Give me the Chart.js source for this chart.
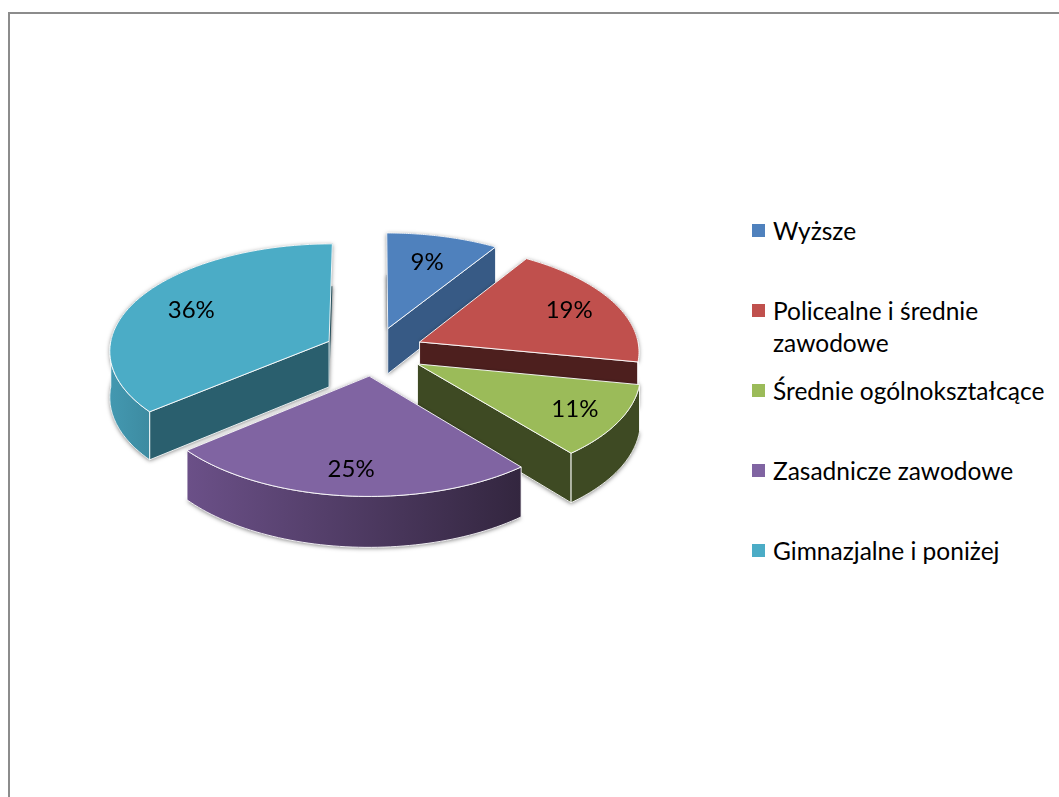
<!DOCTYPE html>
<html>
<head>
<meta charset="utf-8">
<script src="https://cdn.jsdelivr.net/npm/chart.js@4/dist/chart.umd.min.js"></script>
<style>
  html, body { margin: 0; padding: 0; background: #fff; overflow: hidden; }
  #page { position: relative; width: 1059px; height: 797px; overflow: hidden; font-family: Lato, sans-serif; }
  #frame { position: absolute; left: 8px; top: 12px; width: 1060px; height: 800px; border: 2px solid #8c8c8c; border-width: 2px 0 0 2px; }
  #wrap { position: absolute; left: 0; top: 0; width: 748px; height: 797px; }
  #legend { position: absolute; left: 752px; top: 215px; width: 295px; margin: 0; padding: 0; list-style: none; color: #000; font-size: 24.5px; line-height: 32px; }
  #legend li { position: relative; height: 80px; padding-left: 21px; white-space: normal; }
  #legend i { position: absolute; left: 0; top: 9px; width: 13px; height: 13px; }
</style>
</head>
<body>
<div id="page">
  <div id="frame"></div>
  <div id="wrap"><canvas id="myChart"></canvas></div>
  <ul id="legend"></ul>
</div>
<script>
const categories = ['Wyższe', 'Policealne i średnie zawodowe', 'Średnie ogólnokształcące', 'Zasadnicze zawodowe', 'Gimnazjalne i poniżej'];
const values = [9, 19, 11, 25, 36];

const topColors = ['#4f81bd', '#c0504d', '#9bbb59', '#8064a2', '#4bacc6'];
const cutColors = ['#375a85', '#4d1f1e', '#3e4a23', '#4a3560', '#2a5f6e'];
const rimLeft = ['#375a85', '#4d1f1e', '#3e4a23', '#6b5088', '#4398b0'];
const rimRight = ['#375a85', '#4d1f1e', '#3e4a23', '#33263f', '#3d8ba1'];
const labelDist = [0.7, 0.77, 0.79, 0.79, 0.72];

const radius = 220;
const depth = 46;
const squash = 0.485;
const persp = 0.00036;

const legendEl = document.getElementById('legend');
categories.forEach((name, i) => {
    const li = document.createElement('li');
    const box = document.createElement('i');
    box.style.background = topColors[i];
    li.appendChild(box);
    li.appendChild(document.createTextNode(name));
    legendEl.appendChild(li);
});

// flat arcs from the doughnut controller are tilted into a 3d view here
const pie3d = {
    id: 'pie3d',
    beforeDatasetsDraw(chart) {
        const ctx = chart.ctx;
        const arcs = chart.getDatasetMeta(0).data;

        const parts = arcs.map((el, i) => {
            const mid = (el.startAngle + el.endAngle) / 2;
            const off = el.options.offset / 4;
            return { el, i, ox: Math.cos(mid) * off, oy: Math.sin(mid) * off, mid };
        }).sort((a, b) => a.oy - b.oy);

        parts.forEach(p => {
            const { el, i, ox, oy } = p;
            const proj = (a, r, z) => {
                const X = ox + Math.cos(a) * r;
                const Y = oy + Math.sin(a) * r;
                const s = 1 / (1 - persp * Y);
                return [el.x + X * s, el.y + (squash * Y + z) * s];
            };
            const R = el.outerRadius;
            const steps = 60;
            const rimPts = (from, to, z) => {
                const pts = [];
                for (let k = 0; k <= steps; k++) pts.push(proj(from + (to - from) * k / steps, R, z));
                return pts;
            };
            const path = pts => {
                ctx.beginPath();
                pts.forEach((q, k) => k ? ctx.lineTo(q[0], q[1]) : ctx.moveTo(q[0], q[1]));
                ctx.closePath();
            };

            const topFace = [proj(0, 0, 0)].concat(rimPts(el.startAngle, el.endAngle, 0));
            const botFace = [proj(0, 0, depth)].concat(rimPts(el.startAngle, el.endAngle, depth));

            // soft shadow under the body
            ctx.save();
            ctx.shadowColor = 'rgba(0,0,0,0.5)';
            ctx.shadowBlur = 4;
            ctx.shadowOffsetY = 1;
            ctx.fillStyle = cutColors[i];
            path(botFace); ctx.fill();
            path(topFace); ctx.fill();
            ctx.restore();

            ctx.strokeStyle = 'rgba(255,255,255,0.9)';
            ctx.lineWidth = 1;
            ctx.lineJoin = 'round';

            // flat cut walls facing the viewer
            const cut = a => {
                const q = [proj(0, 0, 0), proj(a, R, 0), proj(a, R, depth), proj(0, 0, depth)];
                ctx.fillStyle = cutColors[i];
                path(q); ctx.fill(); ctx.stroke();
            };
            if (Math.cos(el.endAngle) > 0.001) cut(el.endAngle);
            if (Math.cos(el.startAngle) < -0.001) cut(el.startAngle);

            // outer rim, only the front half of the circle shows
            const from = Math.max(el.startAngle, 0);
            const to = Math.min(el.endAngle, Math.PI);
            if (to > from) {
                const t = rimPts(from, to, 0);
                const b = rimPts(from, to, depth).reverse();
                const g = ctx.createLinearGradient(t[t.length - 1][0], 0, t[0][0], 0);
                g.addColorStop(0, rimLeft[i]);
                g.addColorStop(1, rimRight[i]);
                ctx.fillStyle = g;
                path(t.concat(b)); ctx.fill(); ctx.stroke();
            }

            ctx.fillStyle = topColors[i];
            path(topFace); ctx.fill();
            ctx.stroke();
        });

        // percent labels
        ctx.fillStyle = '#000';
        ctx.font = '24px Lato, sans-serif';
        ctx.textAlign = 'center';
        ctx.textBaseline = 'middle';
        parts.forEach(p => {
            const { el, i, ox, oy, mid } = p;
            const r = el.outerRadius * labelDist[i];
            const X = ox + Math.cos(mid) * r;
            const Y = oy + Math.sin(mid) * r;
            const s = 1 / (1 - persp * Y);
            ctx.fillText(values[i] + '%', el.x + X * s, el.y + squash * Y * s);
        });
        return false;
    }
};

new Chart(document.getElementById('myChart'), {
    type: 'pie',
    data: {
        labels: categories,
        datasets: [{ data: values, backgroundColor: topColors, offset: 200, radius: radius, borderWidth: 0 }]
    },
    options: {
        responsive: true,
        maintainAspectRatio: false,
        animation: false,
        layout: { padding: { bottom: 94 } },
        plugins: { legend: { display: false }, tooltip: { enabled: false } }
    },
    plugins: [pie3d]
});
</script>
</body>
</html>
